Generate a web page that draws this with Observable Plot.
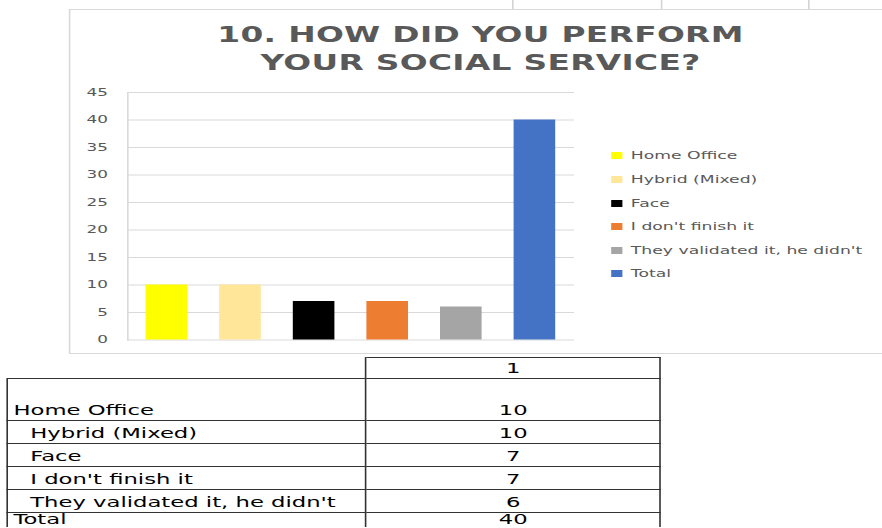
<!DOCTYPE html>
<html>
<head>
<meta charset="utf-8">
<script src="https://cdn.jsdelivr.net/npm/d3@7"></script>
<script src="https://cdn.jsdelivr.net/npm/@observablehq/plot@0.6"></script>
<style>
  html, body { margin: 0; padding: 0; background: #fff; overflow: hidden; }
  body { width: 882px; height: 528px; position: relative; font-family: "DejaVu Sans", sans-serif; }
  #page { position: absolute; left: 0; top: 0; width: 551.25px; height: 528px; transform: scaleX(1.6); transform-origin: 0 0; }
  .colmark { position: absolute; top: 0; width: 1px; height: 9px; background: #d4d4d4; }
  #box { position: absolute; left: 43.3px; top: 9.3px; width: 600px; height: 345px; border: 1px solid #d9d9d9; box-sizing: border-box; }
  #title { position: absolute; left: 0; top: 20.5px; width: 600.6px; text-align: center; font-weight: bold; font-size: 20.5px; line-height: 28.3px; color: #595959; letter-spacing: 0.2px; }
  #chart { position: absolute; left: 0; top: 0; }
  #legend { position: absolute; left: 381.8px; top: 144.2px; }
  .li { height: 23.6px; display: flex; align-items: center; font-size: 10.75px; color: #595959; white-space: nowrap; }
  .sw { width: 7.7px; height: 7px; margin-right: 4.8px; flex: none; }
  #tbl { position: absolute; left: 4.4px; top: 357.3px; border-collapse: collapse; table-layout: fixed; font-size: 14.2px; color: #000; }
  #tbl td { border: 1px solid #333; padding: 0; line-height: 16px; vertical-align: bottom; white-space: pre; }
  #tbl td.num { text-align: center; }
  #tbl tr.last td { vertical-align: top; line-height: 12px; padding-top: 0; padding-bottom: 0; overflow: visible; }
</style>
</head>
<body>
<div id="page">
  <div class="colmark" style="left:320.4px"></div>
  <div class="colmark" style="left:412.5px"></div>
  <div class="colmark" style="left:505px"></div>
  <div id="box"></div>
  <div id="title">10. HOW DID YOU PERFORM<br>YOUR SOCIAL SERVICE?</div>
  <div id="chart"></div>
  <div id="legend"></div>
  <table id="tbl"></table>
</div>
<script>
const categories = ["Home Office", "Hybrid (Mixed)", "Face", "I don't finish it", "They validated it, he didn't", "Total"];
const values = [10, 10, 7, 7, 6, 40];
const colors = ["#FFFF00", "#FFE699", "#000000", "#ED7D31", "#A5A5A5", "#4472C4"];
const yTicks = [0, 5, 10, 15, 20, 25, 30, 35, 40, 45];
const tableHeader = "1";
const tableIndent = [false, true, true, true, true, false];

const data = categories.map((c, i) => ({category: c, value: values[i]}));

const plot = Plot.plot({
  width: 375,
  height: 356,
  marginLeft: 79.4,
  marginRight: 16.25,
  marginTop: 92,
  marginBottom: 16.5,
  style: {background: "transparent", overflow: "visible", fontFamily: "DejaVu Sans"},
  x: {domain: categories, paddingInner: 0.426, paddingOuter: 0.23, axis: null},
  y: {domain: [0, 45]},
  color: {domain: categories, range: colors},
  marks: [
    Plot.gridY(yTicks, {stroke: "#d9d9d9", strokeOpacity: 1}),
    Plot.frame({anchor: "left", stroke: "#d9d9d9"}),
    Plot.barY(data, {x: "category", y: "value", fill: "category"}),
    Plot.axisY(yTicks, {tickSize: 0, tickPadding: 12.5, fontSize: 10.5, fill: "#595959", label: null})
  ]
});
document.getElementById("chart").appendChild(plot);

// legend
const legend = document.getElementById("legend");
categories.forEach((c, i) => {
  const row = document.createElement("div");
  row.className = "li";
  const sw = document.createElement("span");
  sw.className = "sw";
  sw.style.background = colors[i];
  const tx = document.createElement("span");
  tx.textContent = c;
  row.appendChild(sw);
  row.appendChild(tx);
  legend.appendChild(row);
});

// table
const tbl = document.getElementById("tbl");
const colW = [223.7, 184.4];
const rowH = [20.7, 42, 22.7, 23.3, 23, 23, 15];
const cg = document.createElement("colgroup");
colW.forEach(w => { const col = document.createElement("col"); col.style.width = w + "px"; cg.appendChild(col); });
tbl.appendChild(cg);
{
  const tr = document.createElement("tr");
  tr.style.height = rowH[0] + "px";
  const a = document.createElement("td");
  a.style.borderTop = "none"; a.style.borderLeft = "none";
  const b = document.createElement("td");
  b.className = "num"; b.style.verticalAlign = "middle";
  b.textContent = tableHeader;
  tr.appendChild(a); tr.appendChild(b);
  tbl.appendChild(tr);
}
categories.forEach((c, i) => {
  const tr = document.createElement("tr");
  tr.style.height = rowH[i + 1] + "px";
  const last = i === categories.length - 1;
  if (last) tr.className = "last";
  const a = document.createElement("td");
  a.textContent = c;
  a.style.paddingLeft = tableIndent[i] ? "13.5px" : "3px";
  const b = document.createElement("td");
  b.className = "num";
  if (!last) { a.style.paddingBottom = "1.5px"; b.style.paddingBottom = "1.5px"; }
  else { a.style.borderBottom = "none"; b.style.borderBottom = "none"; }
  b.textContent = String(values[i]);
  tr.appendChild(a); tr.appendChild(b);
  tbl.appendChild(tr);
});
</script>
</body>
</html>
